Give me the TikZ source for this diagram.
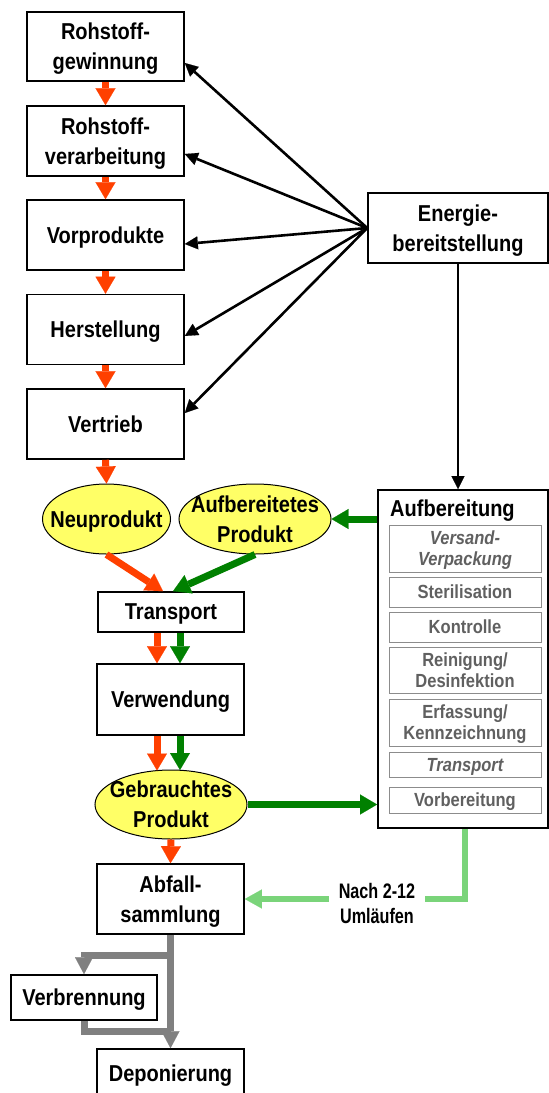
\documentclass[tikz,border=0pt]{standalone}
\usepackage{fontspec}
\setmainfont{Liberation Sans}[FakeStretch=0.87]
\newfontfamily\lblfont{Liberation Sans}[FakeStretch=0.77]
\usetikzlibrary{arrows.meta,shapes.geometric,calc}
\definecolor{myred}{RGB}{255,64,0}
\definecolor{mygreen}{RGB}{0,128,0}
\definecolor{mylgreen}{RGB}{122,212,122}
\definecolor{mygray}{RGB}{128,128,128}
\definecolor{myyellow}{RGB}{255,255,102}
\definecolor{subtext}{RGB}{96,96,96}
\definecolor{subline}{RGB}{140,140,140}
\begin{document}
\begin{tikzpicture}[x=1pt,y=-1pt,
  mbox/.style={draw, line width=1.6pt, align=center, inner sep=0pt, text depth=0pt,
    font=\fontsize{23}{30}\selectfont\bfseries},
  oval/.style={ellipse, draw, line width=1pt, fill=myyellow, inner sep=0pt},
  ovaltext/.style={align=center, inner sep=0pt, text depth=0pt,
    font=\fontsize{23}{30}\selectfont\bfseries},
  subbox/.style={draw=subline, line width=1pt, text=subtext, minimum width=152pt,
    inner sep=0pt, align=center, text depth=0pt,
    font=\fontsize{19}{21}\selectfont\bfseries},
  subboxit/.style={subbox, font=\fontsize{19}{21}\selectfont\bfseries\itshape},
  redarr/.style={draw=myred, line width=7pt, -{Triangle[width=20pt,length=17pt,line width=0.1pt]}},
  greenarr/.style={draw=mygreen, line width=7pt, -{Triangle[width=20pt,length=17pt,line width=0.1pt]}},
  grayarr/.style={draw=mygray, line width=7pt, -{Triangle[width=18pt,length=17pt,line width=0.1pt]}},
  grayline/.style={draw=mygray, line width=7pt},
  lgarr/.style={draw=mylgreen, line width=6.5pt, -{Triangle[width=19pt,length=17pt,line width=0.1pt]}},
  lgline/.style={draw=mylgreen, line width=6.5pt},
  blkarr/.style={draw=black, line width=2.6pt, -{Triangle[width=13pt,length=13pt,line width=0.1pt]}}
]
\useasboundingbox (0,0) rectangle (549,1093);

% left chain
\node[mbox, minimum width=157pt, minimum height=69pt] (b1) at (105.5,46.5) {Rohstoff-\\gewinnung};
\node[mbox, minimum width=157pt, minimum height=70pt] (b2) at (105.5,141) {Rohstoff-\\verarbeitung};
\node[mbox, minimum width=157pt, minimum height=70pt] (b3) at (105.5,235) {Vorprodukte};
\node[mbox, minimum width=157pt, minimum height=70pt] (b4) at (105.5,329.5) {Herstellung};
\node[mbox, minimum width=157pt, minimum height=70pt] (b5) at (105.5,424) {Vertrieb};

\node[mbox, minimum width=180pt, minimum height=70pt] (en) at (458,228) {Energie-\\bereitstellung};

% ellipses
\node[oval, minimum width=128pt, minimum height=70pt] (np) at (106.5,519) {};
\node[ovaltext] (npt) at (np.center) {Neuprodukt};
\node[oval, minimum width=152pt, minimum height=70pt] (ae) at (255,519) {};
\node[ovaltext] (aet) at (ae.center) {Aufbereitetes\\Produkt};

\node[mbox, minimum width=146pt, minimum height=40pt] (tr) at (171,612) {Transport};
\node[mbox, minimum width=147pt, minimum height=71pt] (vw) at (170.5,699.5) {Verwendung};

\node[oval, minimum width=152pt, minimum height=69pt] (ge) at (171,804.5) {};
\node[ovaltext] (get) at (ge.center) {Gebrauchtes\\Produkt};

\node[mbox, minimum width=147pt, minimum height=70pt] (ab) at (170.5,899) {Abfall-\\sammlung};
\node[mbox, minimum width=146pt, minimum height=45pt] (vb) at (84,997.5) {Verbrennung};
\node[mbox, minimum width=147pt, minimum height=48pt] (dp) at (170.5,1073) {Deponierung};

% Aufbereitung
\node[draw, line width=1.8pt, minimum width=170pt, minimum height=338pt, inner sep=0pt] (aufb) at (463,659) {};
\node[anchor=base west, inner sep=0pt, font=\fontsize{23}{30}\selectfont\bfseries] (aufbt) at (390,516) {Aufbereitung};
\node[subboxit, minimum height=47pt] (s1) at (465,548.5) {Versand-\\Verpackung};
\node[subbox, minimum height=30pt] (s2) at (465,592) {Sterilisation};
\node[subbox, minimum height=30pt] (s3) at (465,627) {Kontrolle};
\node[subbox, minimum height=46pt] (s4) at (465,670) {Reinigung/\\Desinfektion};
\node[subbox, minimum height=47pt] (s5) at (465,722.5) {Erfassung/\\Kennzeichnung};
\node[subboxit, minimum height=25pt] (s6) at (465,764.5) {Transport};
\node[subbox, minimum height=26pt] (s7) at (465,800) {Vorbereitung};

\node[align=center, inner xsep=10pt, inner ysep=0pt, text depth=0pt,
  font=\lblfont\fontsize{21}{25}\selectfont\bfseries] (lbl) at (377,903) {Nach 2-12\\Umläufen};

% red chain
\draw[redarr] (b1.south) -- (b2.north);
\draw[redarr] (b2.south) -- (b3.north);
\draw[redarr] (b3.south) -- (b4.north);
\draw[redarr] (b4.south) -- (b5.north);
\draw[redarr] (b5.south) -- (np.north);
\draw[redarr] (np.south) -- ($(tr.north)+(-8,0)$);
\draw[greenarr] (ae.south) -- ($(tr.north)+(2,0)$);
\draw[greenarr] (ae.east -| aufb.west) -- (ae.east);

\draw[redarr] ($(tr.south)+(-14,0)$) -- ($(vw.north)+(-13.5,0)$);
\draw[greenarr] ($(tr.south)+(9,0)$) -- ($(vw.north)+(9.5,0)$);
\draw[redarr] ($(vw.south)+(-13.5,0)$) -- ($(ge.north)+(-14,1)$);
\draw[greenarr] ($(vw.south)+(9.5,0)$) -- ($(ge.north)+(9,0.5)$);
\draw[greenarr] (ge.east) -- (ge.east -| aufb.west);
\draw[redarr] (ge.south) -- (ab.north);

% energy fan
\draw[blkarr] (en.west) -- ($(b1.east)+(0,16.5)$);
\draw[blkarr] (en.west) -- ($(b2.east)+(0,13)$);
\draw[blkarr] (en.west) -- ($(b3.east)+(0,9)$);
\draw[blkarr] (en.west) -- ($(b4.east)+(0,6.5)$);
\draw[blkarr] (en.west) -- ($(b5.east)+(0,-11)$);
\draw[blkarr] (en.south) -- (en.south |- aufb.north);

% light green return
\draw[lgline] (s7.south |- aufb.south) |- (lbl.east |- ab.east);
\draw[lgarr] (lbl.west |- ab.east) -- (ab.east);

% gray disposal
\coordinate (g1) at (170.5,955);
\coordinate (g2) at (170.5,1031);
\draw[grayarr] (g1) -| (vb.north);
\draw[grayline] (vb.south) |- (g2);
\draw[grayarr] (ab.south) -- (dp.north);
\end{tikzpicture}
\end{document}
